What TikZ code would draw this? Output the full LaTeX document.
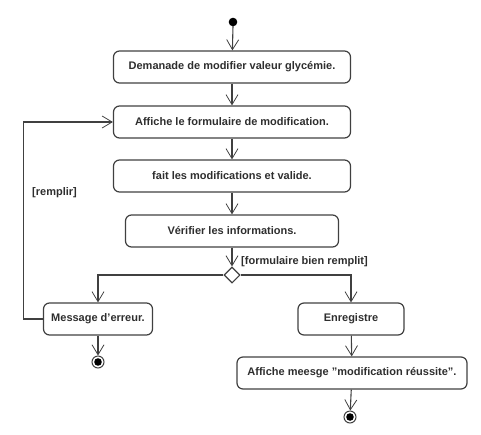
\documentclass[tikz,border=0pt]{standalone}
\usepackage{fontspec}
\setmainfont{Liberation Sans}
\usetikzlibrary{arrows.meta,shapes.geometric}
\definecolor{ligne}{HTML}{404040}
\definecolor{texte}{HTML}{2E2E2E}
\tikzset{
  activite/.style={draw=ligne, line width=1.2pt, rounded corners=6pt, minimum height=32pt,
    inner sep=0pt, text=texte, font=\fontsize{11}{13}\selectfont\bfseries},
  fleche/.style={draw=ligne, line width=1.1pt, -{Straight Barb[length=10pt,width=12pt,line width=0.8pt]}},
  garde/.style={text=texte, font=\fontsize{11}{13}\selectfont\bfseries, inner sep=0pt}
}
\begin{document}
\begin{tikzpicture}[x=1pt,y=-1pt]
            \useasboundingbox (0,0) rectangle (481,434);
            % noeuds
            \fill[black] (233,22) circle (4.3pt); \coordinate (debut) at (233,26);
            \node[activite, minimum width=237pt] (dem) at (232,67) {Demanade de modifier valeur glycémie.};
            \node[activite, minimum width=237pt] (aff) at (232,122) {Affiche le formulaire de modification.};
            \node[activite, minimum width=237pt] (fait) at (232,176) {fait les modifications et valide.};
            \node[activite, minimum width=213pt] (ver) at (232,231) {Vérifier les informations.};
            \node[diamond, draw=ligne, line width=1.1pt, fill=white, minimum width=16pt, minimum height=16pt, inner sep=0pt] (dec) at (232,275) {};
            \node[activite, minimum width=109pt] (msg) at (98,319) {Message d\symbol{39}erreur.};
            \node[activite, minimum width=106pt] (enr) at (351,319) {Enregistre};
            \node[activite, minimum width=230pt] (fin) at (352,373) {Affiche meesge \symbol{34}modification réussite\symbol{34}.};
            % fins
            \node[circle, draw=ligne, line width=1pt, minimum size=12pt, inner sep=0pt] (stop1) at (98,362) {};
            \fill[black] (stop1) circle (3.8pt);
            \node[circle, draw=ligne, line width=1pt, minimum size=12pt, inner sep=0pt] (stop2) at (350,417) {};
            \fill[black] (stop2) circle (3.8pt);
            % fleches
            \draw[fleche] (debut) -- (dem);
            \draw[fleche] (dem) -- (aff);
            \draw[fleche] (aff) -- (fait);
            \draw[fleche] (fait) -- (ver);
            \draw[fleche] (ver) -- (dec);
            \draw[fleche] (dec.west) -| (msg.north);
            \draw[fleche] (dec.east) -| (enr.north);
            \draw[fleche] (enr) -- (fin);
            \draw[fleche] (msg) -- (stop1);
            \draw[fleche] (fin) -- (stop2);
            \draw[fleche] (msg.west) -- ++(-19,0) |- (aff.west); % boucle
            % gardes
            \node[garde, anchor=west] (g1) at (241,262) {[formulaire bien remplit]};
            \node[garde, anchor=west] (g2) at (32,193) {[remplir]};
        \end{tikzpicture}
\end{document}
